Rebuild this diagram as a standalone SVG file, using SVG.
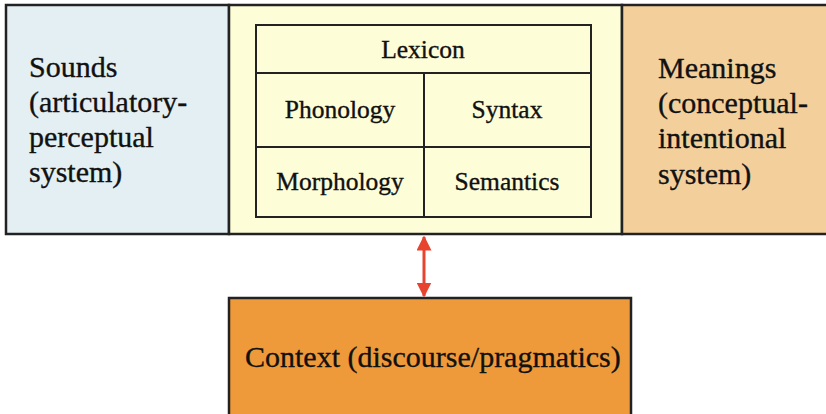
<svg xmlns="http://www.w3.org/2000/svg" width="826" height="414" viewBox="0 0 826 414">
<defs>
<style>
.box{stroke:#222;stroke-width:2.5}
.cell{fill:none;stroke:#222;stroke-width:2}
.t{font-family:"Liberation Serif","Times New Roman",serif;fill:#111;stroke:#111;stroke-width:0.35}
.side{font-size:30px}
.tab{font-size:25.5px;text-anchor:middle}
</style>
<marker id="ah" viewBox="0 0 10 10" refX="9" refY="5" markerWidth="5" markerHeight="5" orient="auto-start-reverse" markerUnits="strokeWidth">
<path d="M0,0 L10,5 L0,10 z" fill="#e8432e"/>
</marker>
</defs>
<rect x="0" y="0" width="826" height="414" fill="#fff"/>
<g id="sounds">
<rect class="box" x="6" y="5" width="223" height="229" fill="#e4eff3"/>
<text class="t side"><tspan x="29" y="77">Sounds</tspan><tspan x="29" y="112">(articulatory-</tspan><tspan x="29" y="147">perceptual</tspan><tspan x="29" y="182">system)</tspan></text>
</g>
<g id="grammar">
<rect class="box" x="229" y="5" width="393" height="229" fill="#fdfdd8"/>
<rect class="cell" x="256" y="25" width="335" height="192"/>
<line class="cell" x1="256" y1="73" x2="591" y2="73"/>
<line class="cell" x1="256" y1="147" x2="591" y2="147"/>
<line class="cell" x1="424" y1="73" x2="424" y2="217"/>
<text class="t tab" x="423" y="58">Lexicon</text>
<text class="t tab" x="340" y="118">Phonology</text>
<text class="t tab" x="507" y="118">Syntax</text>
<text class="t tab" x="340" y="190">Morphology</text>
<text class="t tab" x="507" y="190">Semantics</text>
</g>
<g id="meanings">
<rect class="box" x="622" y="5" width="210" height="229" fill="#f3cf9c"/>
<text class="t side"><tspan x="658" y="78">Meanings</tspan><tspan x="658" y="113">(conceptual-</tspan><tspan x="658" y="148">intentional</tspan><tspan x="658" y="184">system)</tspan></text>
</g>
<g id="context">
<rect class="box" x="229" y="298" width="402" height="130" fill="#ef9a3a"/>
<text class="t" x="245" y="367" font-size="30">Context (discourse/pragmatics)</text>
</g>
<g id="connectors">
<line x1="424" y1="237" x2="424" y2="296" stroke="#e8432e" stroke-width="3" marker-start="url(#ah)" marker-end="url(#ah)"/>
</g>
</svg>
